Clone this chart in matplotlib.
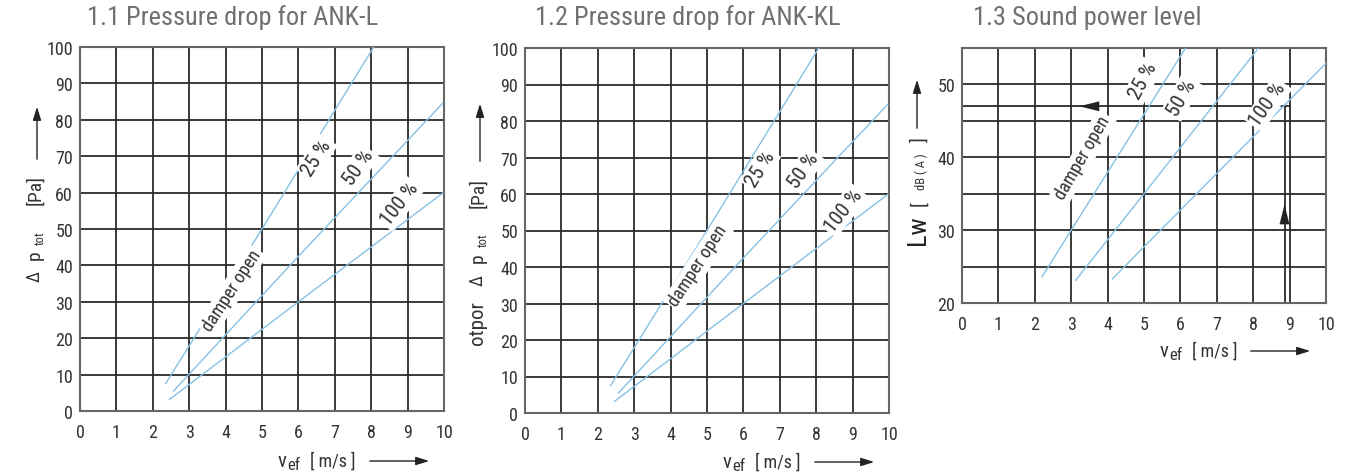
import matplotlib
matplotlib.use("Agg")
import matplotlib.pyplot as plt
from matplotlib import font_manager

# figure is laid out in pixels, 1366 x 477
W, H = 1366, 477

# narrow font if one is around
names = {f.name for f in font_manager.fontManager.ttflist}
FONT = "DejaVu Sans"
for cand in ["Liberation Sans Narrow", "Roboto Condensed", "DejaVu Sans Condensed", "Roboto", "Liberation Sans"]:
    if cand in names:
        FONT = cand
        break
plt.rcParams["font.family"] = [FONT, "DejaVu Sans"]

# ---- data ----
# pressure drop (same curves for ANK-L and ANK-KL)
v_dp_25 = [2.35, 5.0, 8.07]
dp_25 = [7.5, 50.0, 100.0]
v_dp_50 = [2.57, 6.0, 9.97]
dp_50 = [5.5, 42.5, 84.6]
v_dp_100 = [2.46, 6.0, 9.97]
dp_100 = [3.2, 30.0, 59.9]

# sound power level
v_lw_25 = [2.2, 3.0, 6.13]
lw_25 = [23.6, 30.0, 54.9]
v_lw_50 = [3.12, 5.0, 8.13]
lw_50 = [23.1, 35.0, 54.9]
v_lw_100 = [4.13, 5.0, 10.0]
lw_100 = [23.3, 27.7, 52.9]

# example reading on chart 1.3
v_example = 8.86
lw_example = 47.0

titles = ["1.1 Pressure drop for ANK-L", "1.2 Pressure drop for ANK-KL", "1.3 Sound power level"]
pct_labels = ["25 %", "50 %", "100 %"]

BLUE = "#86c1e6"
GRID = "#2a2a2a"
TXT = "#333333"


def fx(x):
    return x / W


def fy(y):
    return 1 - y / H


fig = plt.figure(figsize=(W / 100, H / 100), dpi=100)


def make_axes(left, top, right, bottom):
    ax = fig.add_axes([fx(left), fy(bottom), (right - left) / W, (bottom - top) / H])
    for s in ax.spines.values():
        s.set_color("#666666")
        s.set_linewidth(1.5)
    ax.tick_params(length=0, labelsize=13, colors=TXT)
    ax.tick_params(axis="y", pad=5)
    ax.tick_params(axis="x", pad=9)
    ax.set_xlim(0, 10)
    ax.set_xticks(range(0, 11))
    ax.set_axisbelow(True)
    return ax


def label(ax, x, y, s, rot, size=14):
    ax.text(x, y, s, rotation=rot, rotation_mode="anchor", ha="center", va="center",
            fontsize=size, color=TXT, zorder=4,
            bbox=dict(fc="white", ec="none", pad=1.5))


def xlabel(x0, y0, arrow_from, arrow_to):
    fig.text(fx(x0), fy(y0), "v", fontsize=15, color=TXT, ha="left", va="center")
    fig.text(fx(x0 + 9), fy(y0 + 4), "ef", fontsize=12, color=TXT, ha="left", va="center")
    fig.text(fx(x0 + 32), fy(y0), "[ m/s ]", fontsize=13, color=TXT, ha="left", va="center")
    fig.add_artist(matplotlib.patches.FancyArrowPatch(
        (fx(arrow_from), fy(y0)), (fx(arrow_to), fy(y0)), transform=fig.transFigure,
        arrowstyle="-|>,head_length=8,head_width=2.5", color="#222222", lw=1))


def dp_ylabel(x0, parts, arrow_y):
    for s, y, dx, size in parts:
        fig.text(fx(x0 + dx), fy(y), s, rotation=90, fontsize=size, color=TXT,
                 ha="center", va="center")
    fig.add_artist(matplotlib.patches.FancyArrowPatch(
        (fx(x0 + 2), fy(arrow_y[0])), (fx(x0 + 2), fy(arrow_y[1])), transform=fig.transFigure,
        arrowstyle="-|>,head_length=8,head_width=2.5", color="#222222", lw=1))


# ---- 1.1 and 1.2 pressure drop ----
boxes = [(80, 48, 444, 412), (525, 49, 889, 414)]
lbl_pos = [
    [(4.16, 33.1, 57), (6.5, 69.7, 58), (7.64, 66.9, 55), (8.78, 56.9, 52)],
    [(4.76, 40.4, 57), (6.46, 66.9, 58), (7.65, 66.5, 55), (8.75, 55.5, 52)],
]
for i, (l, t, r, b) in enumerate(boxes):
    ax = make_axes(l, t, r, b)
    ax.set_ylim(0, 100)
    ax.set_yticks(range(0, 101, 10))
    ax.grid(True, color=GRID, lw=1.3)
    ax.plot(v_dp_25, dp_25, color=BLUE, lw=1, zorder=3)
    ax.plot(v_dp_50, dp_50, color=BLUE, lw=1, zorder=3)
    ax.plot(v_dp_100, dp_100, color=BLUE, lw=1, zorder=3)
    pos = lbl_pos[i]
    label(ax, pos[0][0], pos[0][1], "damper open", pos[0][2], size=13)
    for (x, y, rot), s in zip(pos[1:], pct_labels):
        label(ax, x, y, s, rot, size=15)
    fig.text(fx(l + 7 if i == 0 else l + 10), fy(18), titles[i], fontsize=19,
             color="#707070", ha="left", va="center")

xlabel(278, 462, 367, 432)
xlabel(723, 463, 812, 877)

dp_ylabel(35, [("\u0394", 277, 0, 13), ("p", 255, 0, 14), ("tot", 238, 5, 9),
               ("[Pa]", 190, 0, 14)], (163, 105))
dp_ylabel(478, [("otpor", 323, 0, 15), ("\u0394", 280, 0, 13), ("p", 258, 0, 14),
                ("tot", 240, 5, 9), ("[Pa]", 193, 0, 14)], (165, 102))

# ---- 1.3 sound power level ----
ax = make_axes(962, 49, 1326, 304)
ax.set_ylim(20, 55)
ax.set_yticks([20, 30, 40, 50])
ax.set_yticks([25, 35, 45], minor=True)
ax.tick_params(which="minor", length=0)
ax.grid(True, which="both", color=GRID, lw=1.3)
ax.plot(v_lw_25, lw_25, color=BLUE, lw=1, zorder=3)
ax.plot(v_lw_50, lw_50, color=BLUE, lw=1, zorder=3)
ax.plot(v_lw_100, lw_100, color=BLUE, lw=1, zorder=3)

# reading lines for the example point
ax.plot([0, 9.0], [lw_example, lw_example], color=GRID, lw=1.3, zorder=2)
ax.plot([v_example, v_example], [20, lw_example], color=GRID, lw=1.3, zorder=2)
ax.annotate("", xy=(3.15, lw_example), xytext=(3.75, lw_example),
            arrowprops=dict(arrowstyle="-|>,head_length=1.4,head_width=0.35",
                            color="#222222", lw=0.1), zorder=5)
ax.annotate("", xy=(v_example, 33.9), xytext=(v_example, 30.5),
            arrowprops=dict(arrowstyle="-|>,head_length=1.4,head_width=0.35",
                            color="#222222", lw=0.1), zorder=5)

label(ax, 3.32, 40.0, "damper open", 60, size=13)
for (x, y, rot), s in zip([(4.97, 50.5, 62), (6.03, 48.2, 60), (8.4, 47.3, 55)], pct_labels):
    label(ax, x, y, s, rot, size=15)
fig.text(fx(973), fy(18), titles[2], fontsize=19, color="#707070", ha="left", va="center")

xlabel(1160, 352, 1248, 1313)
fig.text(fx(918), fy(230), "Lw", rotation=90, fontsize=19, color="#222222",
         ha="center", va="center")
fig.text(fx(919), fy(204), "[", rotation=90, fontsize=14, color=TXT, ha="center", va="center")
fig.text(fx(921), fy(172), "dB ( A )", rotation=90, fontsize=9, color=TXT,
         ha="center", va="center")
fig.text(fx(919), fy(140), "]", rotation=90, fontsize=14, color=TXT, ha="center", va="center")
fig.add_artist(matplotlib.patches.FancyArrowPatch(
    (fx(917), fy(132)), (fx(917), fy(78)), transform=fig.transFigure,
    arrowstyle="-|>,head_length=8,head_width=2.5", color="#222222", lw=1))

fig.savefig("out.png", dpi=100)
